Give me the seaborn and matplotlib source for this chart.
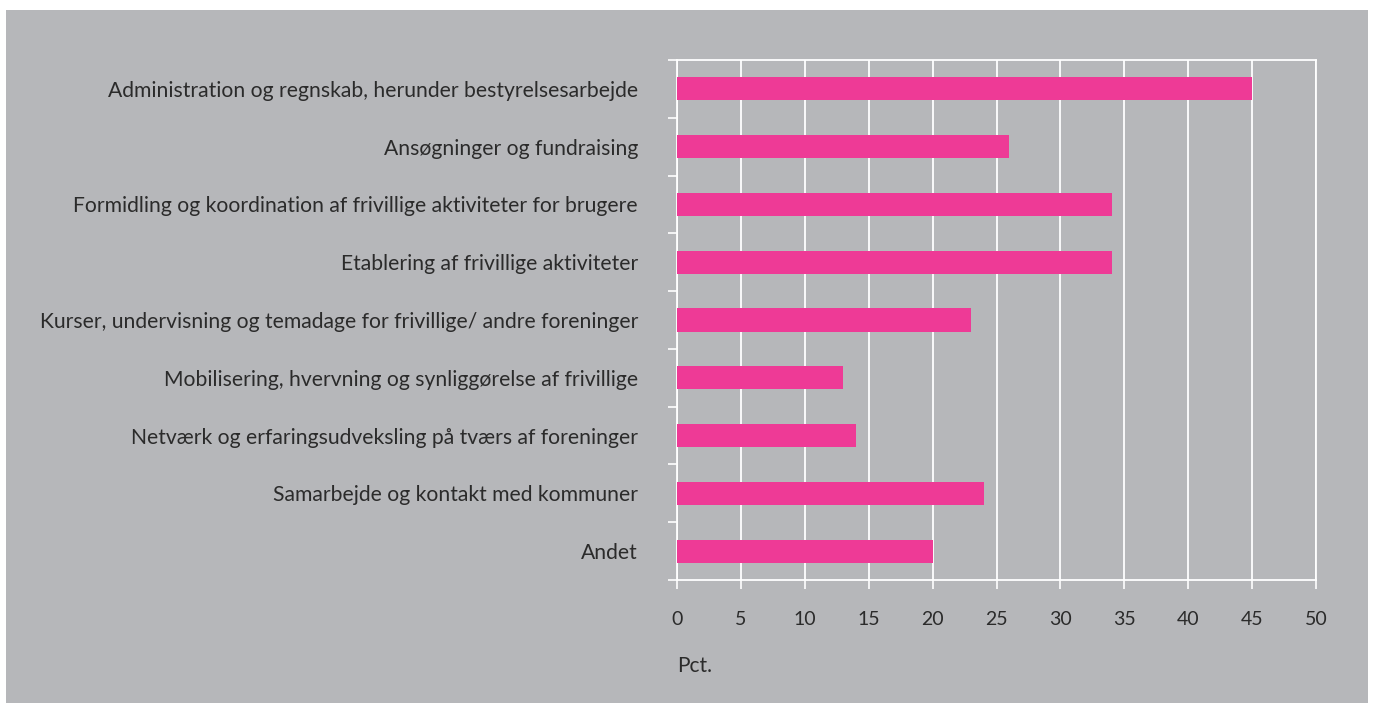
import numpy as np
import pandas as pd
import matplotlib.pyplot as plt
import seaborn as sns
from matplotlib.patches import Rectangle

# Data
kategorier = [
    "Administration og regnskab, herunder bestyrelsesarbejde",
    "Ansøgninger og fundraising",
    "Formidling og koordination af frivillige aktiviteter for brugere",
    "Etablering af frivillige aktiviteter",
    "Kurser, undervisning og temadage for frivillige/ andre foreninger",
    "Mobilisering, hvervning og synliggørelse af frivillige",
    "Netværk og erfaringsudveksling på tværs af foreninger",
    "Samarbejde og kontakt med kommuner",
    "Andet",
]
pct = [45, 26, 34, 34, 23, 13, 14, 24, 20]
x_ticks = [0, 5, 10, 15, 20, 25, 30, 35, 40, 45, 50]

df = pd.DataFrame({"kategori": kategorier, "pct": pct})

GRAA = "#b6b7ba"
PINK = "#ee3a96"
TEKST = "#2b2b2b"

sns.set_theme(style="white")
plt.rcParams['font.family'] = ['Lato', 'DejaVu Sans']

fig = plt.figure(figsize=(13.73, 7.03), dpi=100)
fig.patch.set_facecolor("white")
# grå baggrundsboks
fig.patches.append(Rectangle((6 / 1373, 0), 1362 / 1373, 1 - 10 / 703,
                             transform=fig.transFigure, facecolor=GRAA,
                             edgecolor="none", zorder=-10))

ax = fig.add_axes([677 / 1373, 1 - 580 / 703, (1316 - 677) / 1373, (580 - 60) / 703])
ax.set_facecolor(GRAA)

sns.barplot(data=df, x="pct", y="kategori", orient="h", color=PINK,
            width=0.4, saturation=1, linewidth=0, ax=ax, zorder=3)

ax.set_xlim(0, 50)
ax.set_ylim(len(kategorier) - 0.5, -0.5)
ax.set_xticks(x_ticks)
ax.set_xticklabels([str(v) for v in x_ticks], fontsize=14, color=TEKST)
ax.set_yticks(range(len(kategorier)))
ax.set_yticklabels(kategorier, fontsize=15.2, color=TEKST)
ax.set_yticks(np.arange(-0.5, len(kategorier)), minor=True)

ax.tick_params(axis="y", which="major", left=True, length=0, pad=28)
ax.tick_params(axis="y", which="minor", left=True, length=6.5, width=1.2,
               color="white", direction="out")
ax.tick_params(axis="x", which="major", bottom=True, length=6.5, width=1.2,
               color="white", direction="out", pad=16)

ax.xaxis.grid(True, color="white", linewidth=1.3, zorder=1)
ax.set_axisbelow(True)
for s in ax.spines.values():
    s.set_color("white")
    s.set_linewidth(1.3)

ax.set_xlabel("")
ax.set_ylabel("")

fig.text(677 / 1373, 1 - 666 / 703, "Pct.", fontsize=15, color=TEKST,
         ha="left", va="center")

fig.savefig("out.png", dpi=100, facecolor=fig.get_facecolor())
